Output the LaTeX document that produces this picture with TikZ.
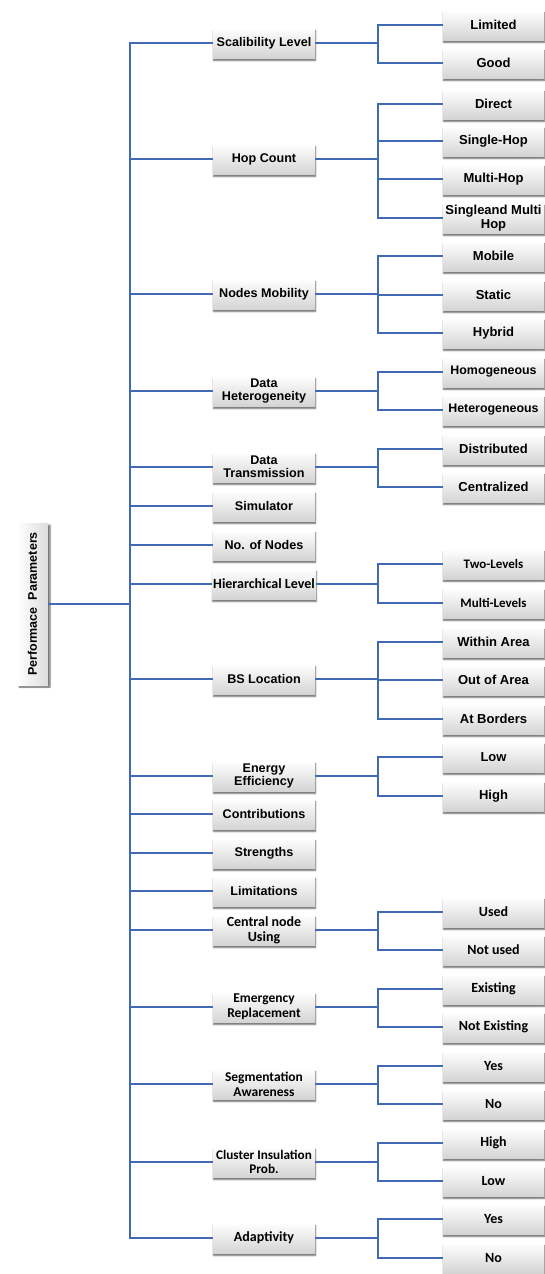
\documentclass[tikz,border=0pt]{standalone}
\usepackage{fontspec}
\setmainfont{Liberation Sans}
\newfontfamily\calib{Carlito}
\usetikzlibrary{shadows.blur}

\definecolor{linkblue}{RGB}{66,106,180}
\definecolor{boxgray}{RGB}{212,212,212}

\tikzset{
  box/.style={rectangle, minimum width=102pt, minimum height=30pt, inner sep=1pt,
    align=center, top color=white, bottom color=boxgray,
    font=\bfseries\fontsize{12.6}{13.2}\selectfont,
    blur shadow={shadow xshift=0.5pt, shadow yshift=-2.5pt, shadow blur steps=4,
      shadow blur radius=1.5pt, shadow opacity=60}},
  leaf/.style={box, minimum width=101pt, font=\bfseries\fontsize{13}{13.3}\selectfont},
  narrow/.style={font=\bfseries\fontsize{12.4}{13.3}\selectfont},
  cal/.style={font=\calib\bfseries\fontsize{14}{15}\selectfont},
  calm/.style={font=\calib\bfseries\fontsize{13}{15}\selectfont},
  cals/.style={font=\calib\bfseries\fontsize{13.2}{14}\selectfont},
  calt/.style={font=\calib\bfseries\fontsize{13.5}{14.7}\selectfont},
  link/.style={draw=linkblue, line width=1.3pt},
}

\begin{document}
\begin{tikzpicture}[x=1pt, y=-1pt]
\useasboundingbox (0,0) rectangle (544,1274);

% root of the tree
\node[rectangle, minimum width=31pt, minimum height=162pt, inner sep=0pt,
  left color=white, right color=boxgray!80,
  blur shadow={shadow xshift=2pt, shadow yshift=-2pt, shadow blur steps=4, shadow blur radius=1.5pt, shadow opacity=60},
  font=\bfseries\fontsize{12.5}{14}\selectfont]
  (root) at (32.5,604) {\rotatebox{90}{Performace\ \ Parameters}};

\coordinate (trunk) at (130,604);
\coordinate (fork) at (378,604);

% second level
\node[box] (scal) at (264,43) {Scalibility Level};
\node[box] (hop) at (264,159) {Hop Count};
\node[box] (mob) at (264,294) {Nodes Mobility};
\node[box] (het) at (264,391) {Data\\Heterogeneity};
\node[box] (trans) at (264,467) {Data\\Transmission};
\node[box] (sim) at (264,506) {Simulator};
\node[box] (num) at (264,545) {No. of Nodes};
\node[box, cal] (hier) at (264,584) {Hierarchical Level};
\node[box] (bs) at (264,679) {BS Location};
\node[box] (energy) at (264,776) {Energy\\Efficiency};
\node[box] (contr) at (264,814) {Contributions};
\node[box] (str) at (264,853) {Strengths};
\node[box] (lim) at (264,891) {Limitations};
\node[box, cal] (central) at (264,930) {Central node\\Using};
\node[box, calt] (emerg) at (264,1007) {Emergency\\Replacement};
\node[box, calt] (segm) at (264,1084) {Segmentation\\Awareness};
\node[box, cals] (clust) at (264,1162) {Cluster Insulation\\Prob.};
\node[box, cal] (adapt) at (264,1238) {Adaptivity};

% third level
\node[leaf] (limited) at (493.5,25) {Limited};
\node[leaf] (good) at (493.5,63) {Good};
\node[leaf] (direct) at (493.5,104) {Direct};
\node[leaf] (single) at (493.5,141) {Single-Hop};
\node[leaf] (multi) at (493.5,179) {Multi-Hop};
\node[leaf] (both) at (493.5,218) {Singleand Multi\\Hop};
\node[leaf] (mobile) at (493.5,256) {Mobile};
\node[leaf] (static) at (493.5,295) {Static};
\node[leaf] (hybrid) at (493.5,333) {Hybrid};
\node[leaf, narrow] (homo) at (493.5,372) {Homogeneous};
\node[leaf, narrow] (hetero) at (493.5,410) {Heterogeneous};
\node[leaf] (distr) at (493.5,449) {Distributed};
\node[leaf] (centr) at (493.5,487) {Centralized};
\node[leaf, calm] (two) at (493.5,564) {Two-Levels};
\node[leaf, calm] (multilev) at (493.5,603) {Multi-Levels};
\node[leaf] (within) at (493.5,642) {Within Area};
\node[leaf] (out) at (493.5,680) {Out of Area};
\node[leaf] (border) at (493.5,719) {At Borders};
\node[leaf] (elow) at (493.5,757) {Low};
\node[leaf] (ehigh) at (493.5,796) {High};
\node[leaf, cal] (used) at (493.5,912) {Used};
\node[leaf, cal] (notused) at (493.5,950) {Not used};
\node[leaf, cal] (exist) at (493.5,989) {Existing};
\node[leaf, cal] (notexist) at (493.5,1027) {Not Existing};
\node[leaf, cal] (syes) at (493.5,1066) {Yes};
\node[leaf, cal] (sno) at (493.5,1104) {No};
\node[leaf, cal] (chigh) at (493.5,1143) {High};
\node[leaf, cal] (clow) at (493.5,1181) {Low};
\node[leaf, cal] (ayes) at (493.5,1219) {Yes};
\node[leaf, cal] (ano) at (493.5,1258) {No};

% trunk connectors
\draw[link] (root.east) -- (trunk);
\foreach \m in {scal,hop,mob,het,trans,sim,num,hier,bs,energy,contr,str,lim,central,emerg,segm,clust,adapt}
  \draw[link] (trunk) |- (\m.west);

% branch connectors
\foreach \m/\cs in {scal/{limited,good}, hop/{direct,single,multi,both},
    mob/{mobile,static,hybrid}, het/{homo,hetero}, trans/{distr,centr},
    hier/{two,multilev}, bs/{within,out,border}, energy/{elow,ehigh},
    central/{used,notused}, emerg/{exist,notexist}, segm/{syes,sno},
    clust/{chigh,clow}, adapt/{ayes,ano}}
  \foreach \c in \cs
    \draw[link] (\m.east) -- (\m.east -| fork) |- (\c.west);
\end{tikzpicture}
\end{document}
